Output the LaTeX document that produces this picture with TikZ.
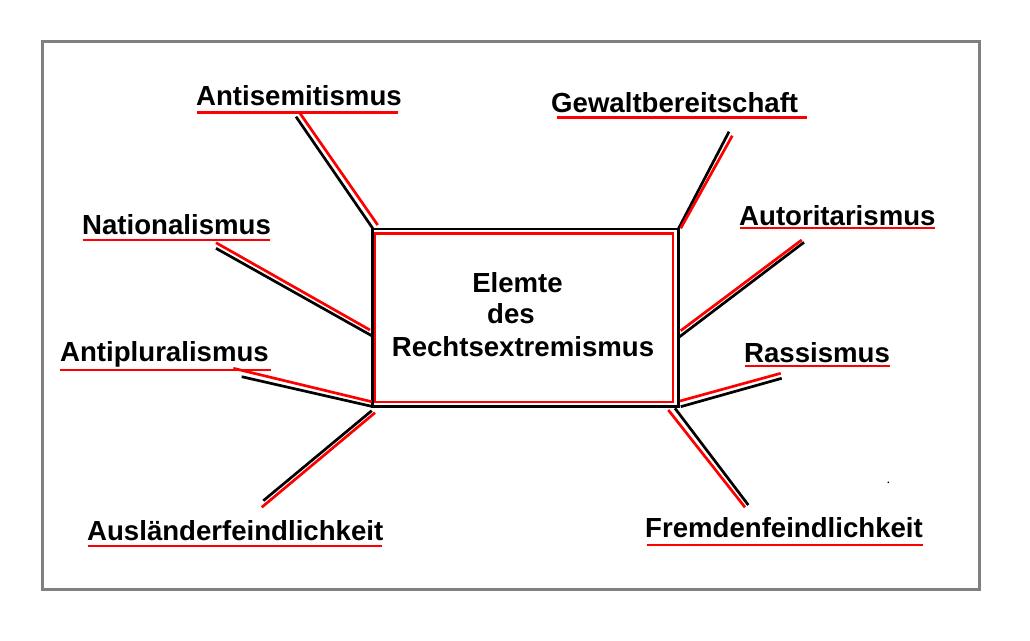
\documentclass[tikz,border=0pt]{standalone}
\usepackage{fontspec}
\setmainfont{Liberation Sans}
\begin{document}
\begin{tikzpicture}[x=1pt,y=-1pt,
  lab/.style={anchor=base west,inner sep=0pt,font=\fontsize{27.6pt}{32pt}\selectfont\bfseries},
  ctext/.style={anchor=base,inner sep=0pt,font=\fontsize{27.6pt}{32pt}\selectfont\bfseries},
  ul/.style={draw=red,line width=2.8pt},
  blk/.style={draw=black,line width=2.7pt},
  rd/.style={draw=red,line width=2.7pt}]
\useasboundingbox (0,0) rectangle (1030,640);
\fill[white] (0,0) rectangle (1030,640);
% outer frame
\draw[line width=3pt,draw={rgb,255:red,128;green,128;blue,128}] (42.5,41.5) rectangle (979,589);
% central box
\node[blk,minimum width=306pt,minimum height=177.7pt,inner sep=0pt] (box) at (525.3,317.85) {};
\node[rd,minimum width=298pt,minimum height=168.7pt,inner sep=0pt] (inner) at (524,317.65) {};
\node[ctext] (t1) at (517.5,292) {Elemte};
\node[ctext] (t2) at (511,323.5) {des};
\node[ctext] (t3) at (523,356) {Rechtsextremismus};
% labels
\node[lab] (l1) at (196,105) {Antisemitismus};
\node[lab] (l2) at (551,112) {Gewaltbereitschaft};
\node[lab] (l3) at (82,234) {Nationalismus};
\node[lab] (l4) at (60,361) {Antipluralismus};
\node[lab] (l5) at (739,225) {Autoritarismus};
\node[lab] (l6) at (744,362) {Rassismus};
\node[lab] (l7) at (87,540) {Ausländerfeindlichkeit};
\node[lab] (l8) at (645,537) {Fremdenfeindlichkeit};
% underlines
\draw[ul] (197,112.3) -- (398,112.3);
\draw[ul] (557,117.3) -- (807,117.3);
\draw[ul] (83,240) -- (270,240);
\draw[ul] (60,370) -- (271,370);
\draw[ul] (740,228) -- (935,228);
\draw[ul] (745,366) -- (890,366);
\draw[ul] (88,546) -- (382,546);
\draw[ul] (647,545) -- (923,545);
% connector end points
\coordinate (a1b) at (296,116.7);   \coordinate (a2b) at (372.7,228.3);
\coordinate (a1r) at (299.3,112.3); \coordinate (a2r) at (377.7,225);
\coordinate (g1b) at (729,131.7);   \coordinate (g2b) at (678.3,229);
\coordinate (g1r) at (732.3,135.7); \coordinate (g2r) at (680.7,228.3);
\coordinate (n1b) at (216,248.3);   \coordinate (n2b) at (371.7,335.7);
\coordinate (n1r) at (216,242.7);   \coordinate (n2r) at (370,330);
\coordinate (p1b) at (241.7,376.7); \coordinate (p2b) at (373.3,406.7);
\coordinate (p1r) at (233.3,368.3); \coordinate (p2r) at (371.7,401.7);
\coordinate (u1b) at (263.3,500.7); \coordinate (u2b) at (371.7,410.7);
\coordinate (u1r) at (261.7,507.3); \coordinate (u2r) at (375,412.7);
\coordinate (o1b) at (804,242.3);   \coordinate (o2b) at (678.3,337.7);
\coordinate (o1r) at (801.7,240);   \coordinate (o2r) at (680.7,330.7);
\coordinate (r1b) at (781.7,378.3); \coordinate (r2b) at (680.7,406.7);
\coordinate (r1r) at (780.7,373.3); \coordinate (r2r) at (680,401);
\coordinate (f1b) at (748.3,505);   \coordinate (f2b) at (675,408.3);
\coordinate (f1r) at (745,507.3);   \coordinate (f2r) at (668.3,410);
% connectors
\draw[blk] (a1b) -- (a2b); \draw[rd] (a1r) -- (a2r);
\draw[blk] (g1b) -- (g2b); \draw[rd] (g1r) -- (g2r);
\draw[blk] (n1b) -- (n2b); \draw[rd] (n1r) -- (n2r);
\draw[blk] (p1b) -- (p2b); \draw[rd] (p1r) -- (p2r);
\draw[blk] (u1b) -- (u2b); \draw[rd] (u1r) -- (u2r);
\draw[blk] (o1b) -- (o2b); \draw[rd] (o1r) -- (o2r);
\draw[blk] (r1b) -- (r2b); \draw[rd] (r1r) -- (r2r);
\draw[blk] (f1b) -- (f2b); \draw[rd] (f1r) -- (f2r);
% stray dot
\fill[black] (888.3,482.3) circle (0.9pt);
\end{tikzpicture}
\end{document}
